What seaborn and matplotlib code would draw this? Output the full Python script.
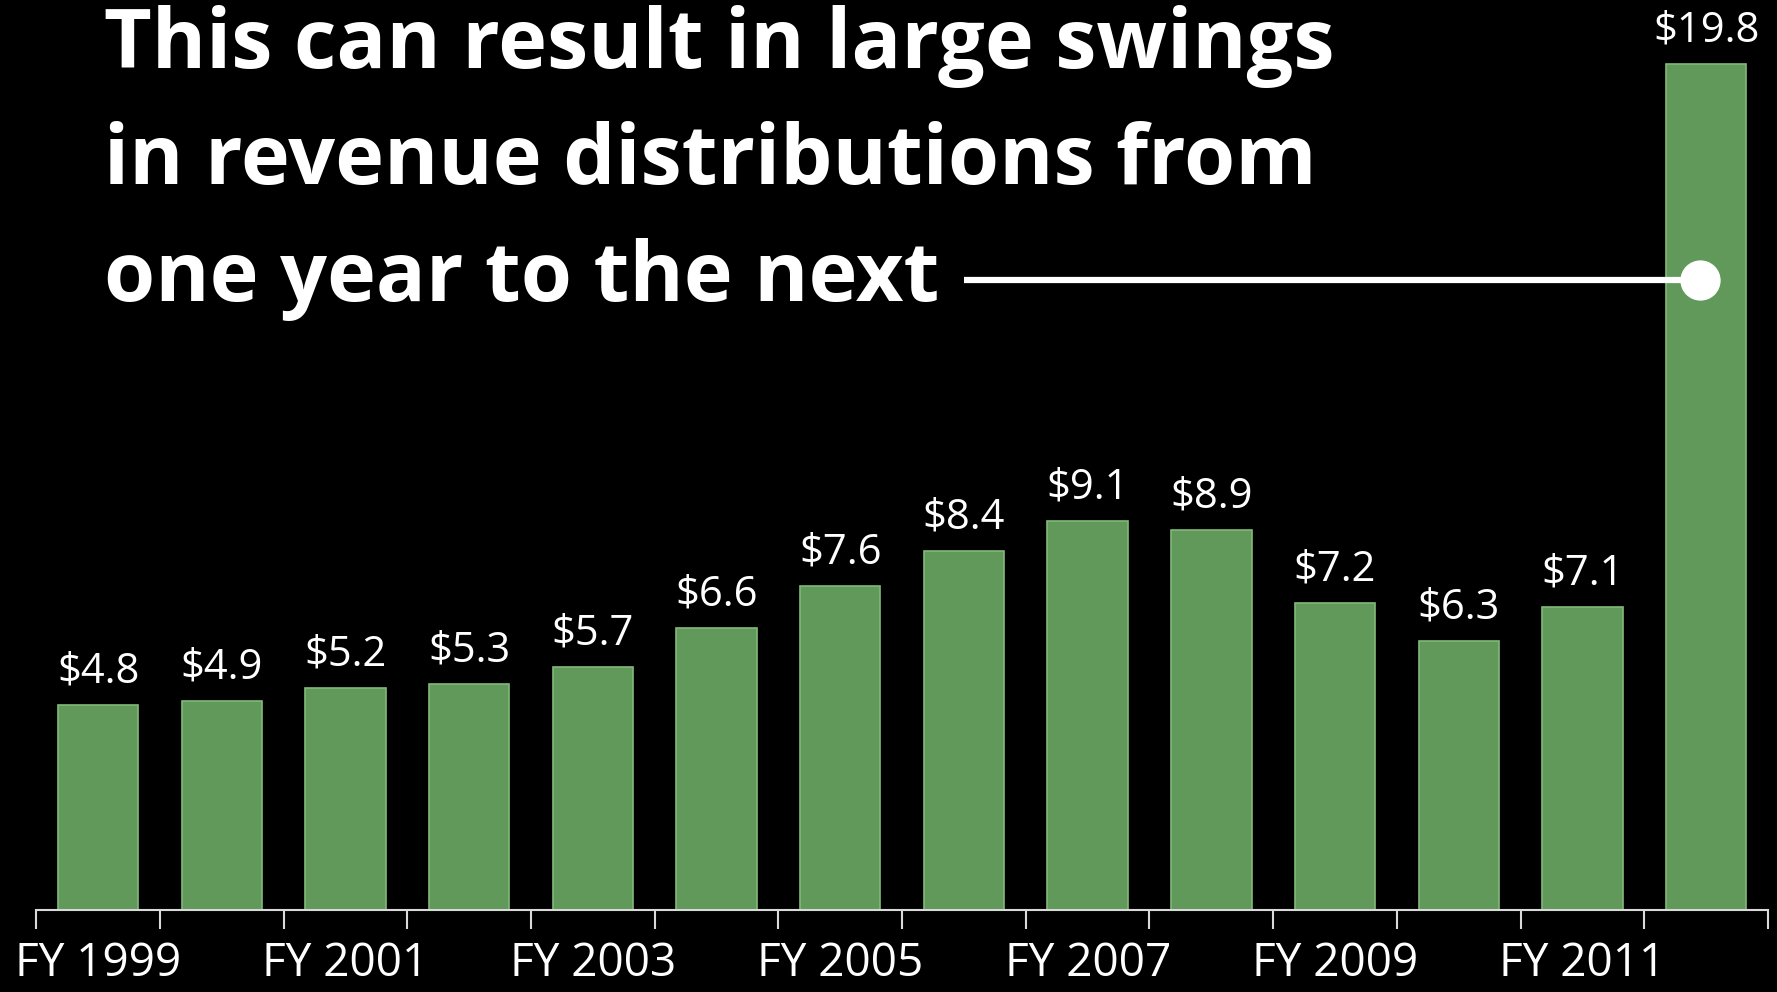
import matplotlib
matplotlib.use("Agg")
import matplotlib.pyplot as plt
import seaborn as sns
import pandas as pd

years = ["FY 1999", "FY 2000", "FY 2001", "FY 2002", "FY 2003", "FY 2004", "FY 2005",
         "FY 2006", "FY 2007", "FY 2008", "FY 2009", "FY 2010", "FY 2011", "FY 2012"]
values = [4.8, 4.9, 5.2, 5.3, 5.7, 6.6, 7.6, 8.4, 9.1, 8.9, 7.2, 6.3, 7.1, 19.8]
value_labels = ["$4.8", "$4.9", "$5.2", "$5.3", "$5.7", "$6.6", "$7.6",
                "$8.4", "$9.1", "$8.9", "$7.2", "$6.3", "$7.1", "$19.8"]
title_text = "This can result in large swings\nin revenue distributions from\none year to the next"

sns.set_theme(style="dark")
plt.rcParams["font.family"] = ["Open Sans", "DejaVu Sans"]

df = pd.DataFrame({"year": years, "value": values})

fig = plt.figure(figsize=(17.77, 9.92), dpi=100, facecolor="black")
ax = fig.add_axes([0.0204, 0.0823, 0.9745, 0.9177])
ax.set_facecolor("black")

sns.barplot(data=df, x="year", y="value", color="#61995a", saturation=1,
            width=0.65, ax=ax, edgecolor="#82b97a", linewidth=1.2)

ax.set_xlim(-0.5, len(years) - 0.5)
ax.set_ylim(0, 21.3)

for i, (v, lab) in enumerate(zip(values, value_labels)):
    ax.annotate(lab, (i, v), xytext=(0, 9), textcoords="offset points",
                ha="center", va="bottom", color="white", fontsize=30)

for s in ["top", "right", "left"]:
    ax.spines[s].set_visible(False)
ax.spines["bottom"].set_color("#d9d9d9")
ax.spines["bottom"].set_linewidth(1.5)
ax.set_yticks([])
ax.set_ylabel("")
ax.set_xlabel("")

ax.set_xticks(range(0, len(years), 2))
ax.set_xticklabels(years[::2], color="white", fontsize=33)
ax.tick_params(axis="x", which="major", length=0, pad=22, bottom=True)
ax.set_xticks([i - 0.5 for i in range(len(years) + 1)], minor=True)
ax.tick_params(axis="x", which="minor", length=14, width=1.5, color="#d9d9d9",
               direction="out", bottom=True)
ax.grid(False)

fig.text(0.0585, 0.995, title_text, color="white", fontsize=59.5, fontweight="bold",
         ha="left", va="top", linespacing=1.53)

# connector line and dot to the FY 2012 bar
ax.plot([7.0, 13.0], [14.74, 14.74], color="white", lw=4.5, solid_capstyle="butt")
ax.plot([12.95], [14.74], marker="o", markersize=28, color="white")

fig.savefig("out.png", dpi=100, facecolor="black")
